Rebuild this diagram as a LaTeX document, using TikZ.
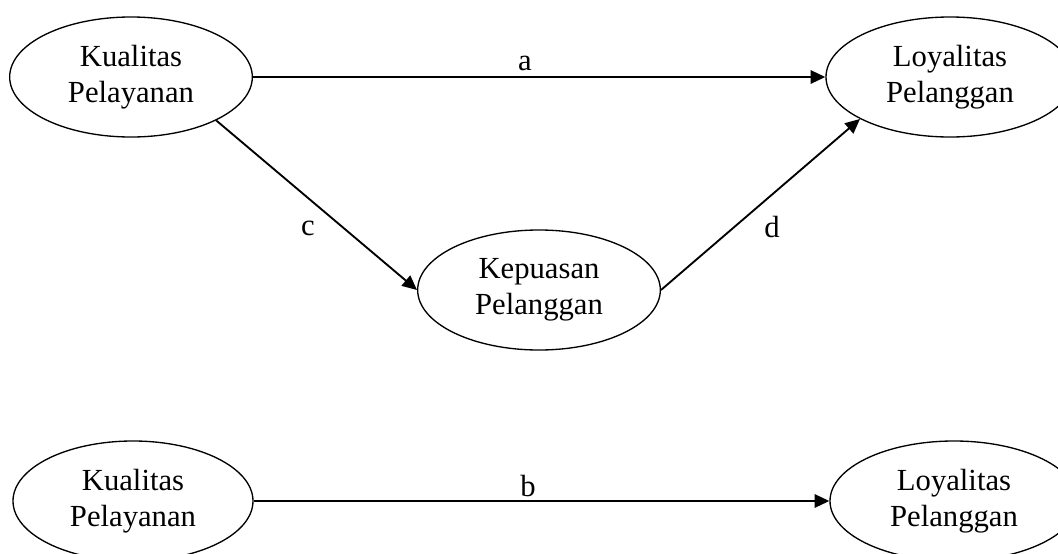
\documentclass[tikz,border=0pt]{standalone}
\usepackage{fontspec}
\setmainfont{Liberation Serif}
\usetikzlibrary{arrows.meta, shapes.geometric}
\tikzset{
  var/.style={ellipse,draw,line width=1pt,align=center,inner sep=0pt,minimum width=182pt,minimum height=90pt,font=\fontsize{23}{27}\selectfont},
  lbl/.style={font=\fontsize{23}{27}\selectfont},
  line/.style={-{Triangle[length=11pt,width=10pt]},line width=1.4pt}
}

\begin{document}
\begin{tikzpicture}[x=0.75pt,y=-0.75pt]
\clip (0,0) rectangle (1058,554);
\node[var] (kp) at (131,77) {Kualitas\\Pelayanan};
\node[var, minimum width=186pt] (lp) at (950,77) {Loyalitas\\Pelanggan};
\node[var] (kep) at (539,290) {Kepuasan\\Pelanggan};
\node[var, minimum width=180pt] (kp2) at (133,501) {Kualitas\\Pelayanan};
\node[var, minimum width=186pt] (lp2) at (954,501) {Loyalitas\\Pelanggan};
\node[lbl] (la) at (525,63) {a};
\node[lbl] (lc) at (308,228) {c};
\node[lbl] (ld) at (772,227) {d};
\node[lbl] (lb) at (528,486) {b};
\draw[line] (kp) -- (lp);
\draw[line] (kp.-27) -- (kep.west);
\draw[line] (kep.east) -- (lp.205);
\draw[line] (kp2) -- (lp2);
\end{tikzpicture}
\end{document}
